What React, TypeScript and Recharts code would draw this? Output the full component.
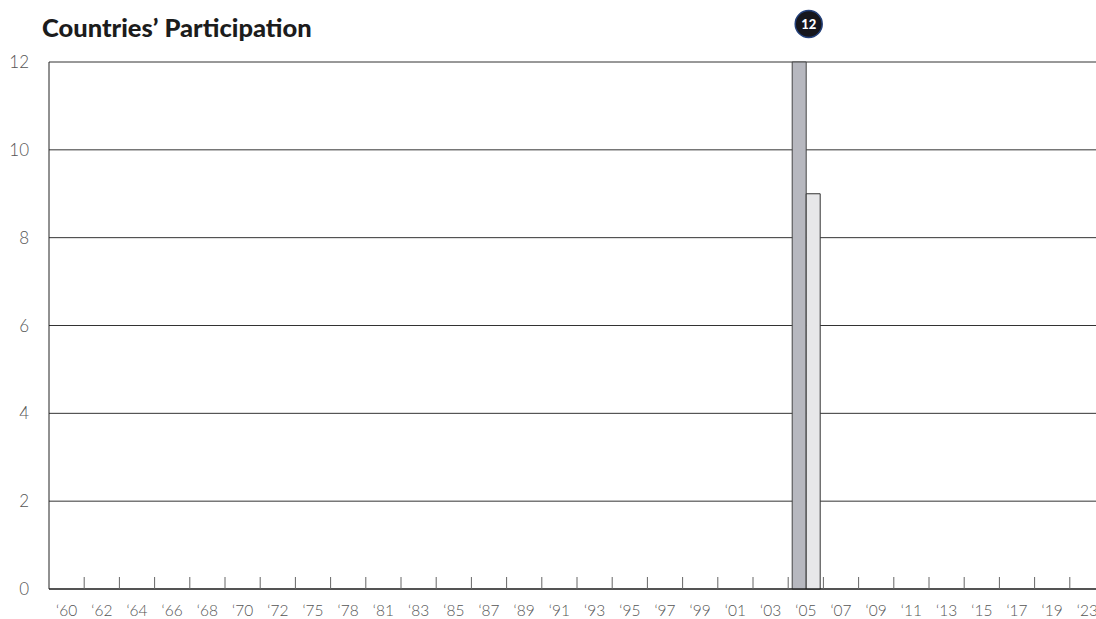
import React from "react";
import { BarChart, Bar, XAxis, YAxis, CartesianGrid, LabelList } from "recharts";

const categories = [
  "‘60", "‘62", "‘64", "‘66", "‘68", "‘70", "‘72", "‘75", "‘78", "‘81",
  "‘83", "‘85", "‘87", "‘89", "‘91", "‘93", "‘95", "‘97", "‘99", "‘01",
  "‘03", "‘05", "‘07", "‘09", "‘11", "‘13", "‘15", "‘17", "‘19", "‘23",
];

const participating = [
  null, null, null, null, null, null, null, null, null, null,
  null, null, null, null, null, null, null, null, null, null,
  null, 12, null, null, null, null, null, null, null, null,
];

const secondary = [
  null, null, null, null, null, null, null, null, null, null,
  null, null, null, null, null, null, null, null, null, null,
  null, 9, null, null, null, null, null, null, null, null,
];

const yTicks = [0, 2, 4, 6, 8, 10, 12];
const boundaryTicks = [1, 2, 3, 4, 5, 6, 7, 8, 9, 10, 11, 12, 13, 14, 15, 16, 17, 18, 19, 20, 21, 22, 23, 24, 25, 26, 27, 28, 29];

const data = categories.map((c, i) => ({ year: c, a: participating[i], b: secondary[i], pos: i + 0.5 }));

const BadgeLabel = (props: any) => {
  const { x, y, width, value } = props;
  if (value == null) return null;
  const cx = x + width + 2.5;
  const cy = y - 38;
  return (
    <g>
      <circle cx={cx} cy={cy} r={13.5} fill="#16161c" stroke="#23407a" strokeWidth={1.5} />
      <text x={cx} y={cy} dy="0.36em" textAnchor="middle" fill="#ffffff" fontSize={13} fontWeight={900} fontFamily="Lato, sans-serif">
        {value}
      </text>
    </g>
  );
};

const BoundaryTick = (props: any) => {
  const { x, y } = props;
  return <line x1={x} x2={x} y1={y - 12} y2={y} stroke="#666" strokeWidth={1} />;
};

export default function App() {
  return (
    <div style={{ position: "fixed", left: 0, top: 0, width: 1096, height: 619, overflow: "hidden", background: "#fff" }}>
      <div
        style={{
          position: "absolute",
          left: 42,
          top: 12,
          fontFamily: "Lato, sans-serif",
          fontWeight: 900,
          fontSize: 25.5,
          lineHeight: "30px",
          color: "#1c1c1c",
          whiteSpace: "nowrap",
        }}
      >
        Countries’ Participation
      </div>
      <div style={{ position: "absolute", left: 0, top: 0 }}>
        <BarChart
          width={1110}
          height={619}
          data={data}
          margin={{ top: 62, right: 5, bottom: 0, left: 0 }}
          barGap={0}
          barSize={14}
        >
          <CartesianGrid xAxisId="cat" vertical={false} stroke="#333" strokeWidth={1} />
          <XAxis
            xAxisId="bounds"
            dataKey="pos"
            type="number"
            domain={[0, 30]}
            ticks={boundaryTicks}
            tick={BoundaryTick}
            axisLine={{ stroke: "#111", strokeWidth: 1.2 }}
            tickLine={false}
            tickSize={0}
            tickMargin={0}
            height={1}
            allowDataOverflow
          />
          <XAxis
            xAxisId="cat"
            dataKey="year"
            type="category"
            interval={0}
            tickLine={false}
            tickSize={0}
            tickMargin={15}
            axisLine={false}
            height={29}
            tick={{ fill: "#555", fontSize: 15.5, fontFamily: "Lato, sans-serif", fontWeight: 300 }}
          />
          <YAxis
            domain={[0, 12]}
            ticks={yTicks}
            width={49}
            tickLine={false}
            tickSize={0}
            tickMargin={20}
            axisLine={{ stroke: "#222", strokeWidth: 1 }}
            tick={{ fill: "#555", fontSize: 17, fontFamily: "Lato, sans-serif", fontWeight: 300 }}
          />
          <Bar xAxisId="cat" dataKey="a" fill="#b7b8bf" stroke="#444" strokeWidth={1} isAnimationActive={false}>
            <LabelList dataKey="a" content={BadgeLabel} />
          </Bar>
          <Bar xAxisId="cat" dataKey="b" fill="#e7e7e9" stroke="#333" strokeWidth={1} isAnimationActive={false} />
        </BarChart>
      </div>
    </div>
  );
}
